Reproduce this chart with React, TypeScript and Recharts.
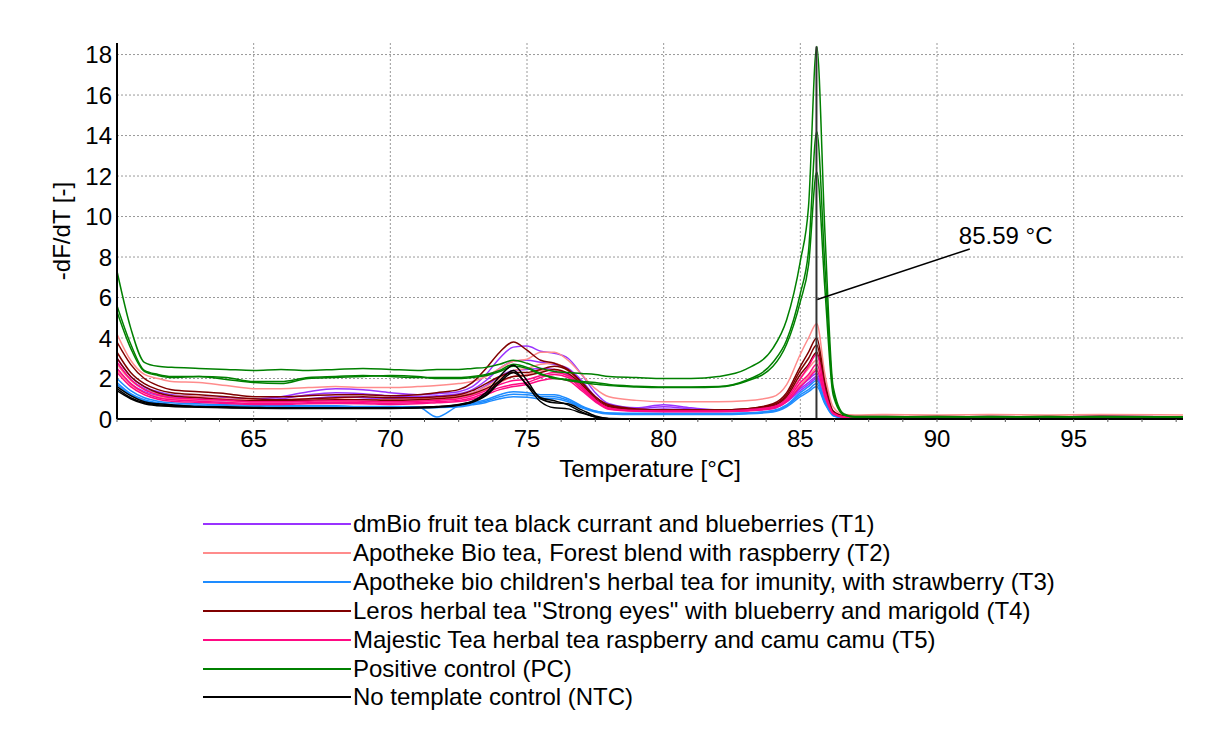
import React from "react";
import {
  LineChart,
  Line,
  XAxis,
  YAxis,
  CartesianGrid,
  ReferenceLine,
  ReferenceDot,
} from "recharts";

// temperature grid (°C), denser around the melt peaks
const temps = [
  60, 60.5, 61, 61.5, 62,
  63, 64, 65, 66, 67, 68, 69, 70, 71, 71.7,
  72.5, 73, 73.5, 74, 74.5, 75, 75.5, 76, 76.5, 77, 77.5, 78,
  79, 80, 81, 82, 83, 84, 84.5,
  85, 85.3, 85.6, 85.9, 86.2, 86.6, 87,
  88, 90, 92, 94, 96, 99,
];

// T1 dmBio (purple)
const t1a = [
  3.0, 2.1, 1.6, 1.35, 1.2,
  1.1, 1.05, 1.0, 1.1, 1.35, 1.5, 1.45, 1.3, 1.2, 1.25,
  1.35, 1.6, 2.2, 3.0, 3.55, 3.6, 3.35, 3.25, 3.0, 2.2, 1.3, 0.75,
  0.55, 0.7, 0.55, 0.45, 0.48, 0.6, 0.95,
  1.6, 1.95, 2.25, 1.0, 0.3, 0.12, 0.1,
  0.1, 0.12, 0.1, 0.1, 0.15, 0.1,
];
const t1b = [
  2.8, 1.95, 1.5, 1.25, 1.1,
  1.05, 0.98, 0.95, 1.0, 1.2, 1.3, 1.25, 1.15, 1.1, 1.15,
  1.25, 1.45, 1.9, 2.5, 2.85, 2.9, 2.8, 2.7, 2.5, 1.9, 1.1, 0.65,
  0.5, 0.6, 0.5, 0.42, 0.45, 0.55, 0.9,
  1.5, 1.8, 2.1, 0.95, 0.28, 0.1, 0.1,
  0.1, 0.1, 0.12, 0.1, 0.1, 0.1,
];
const t1c = [
  2.5, 1.75, 1.35, 1.15, 1.0,
  0.95, 0.9, 0.88, 0.9, 1.0, 1.1, 1.05, 1.0, 1.0, 1.05,
  1.15, 1.3, 1.65, 2.1, 2.4, 2.45, 2.5, 2.45, 2.2, 1.6, 0.95, 0.55,
  0.45, 0.5, 0.45, 0.4, 0.42, 0.52, 0.85,
  1.4, 1.7, 2.0, 0.9, 0.25, 0.1, 0.08,
  0.08, 0.1, 0.08, 0.1, 0.08, 0.08,
];

// T2 Apotheke forest blend (salmon)
const t2a = [
  4.2, 2.9, 2.2, 2.0, 1.85,
  1.8, 1.65, 1.5, 1.5, 1.55, 1.6, 1.55, 1.55, 1.6, 1.65,
  1.75, 1.85, 2.1, 2.5, 2.85, 2.95, 3.3, 3.3, 2.9, 2.2, 1.5, 1.1,
  0.92, 0.85, 0.85, 0.85, 0.9, 1.1, 1.7,
  3.2, 4.0, 4.7, 2.2, 0.6, 0.22, 0.2,
  0.22, 0.2, 0.22, 0.2, 0.22, 0.2,
];
const t2b = [
  2.7, 1.9, 1.45, 1.25, 1.15,
  1.1, 1.0, 0.95, 0.95, 1.0, 1.0, 0.95, 0.95, 1.0, 1.05,
  1.15, 1.3, 1.6, 2.0, 2.4, 2.5, 2.7, 2.75, 2.4, 1.7, 1.0, 0.6,
  0.48, 0.45, 0.45, 0.45, 0.5, 0.7, 1.1,
  2.0, 2.5, 2.9, 1.3, 0.35, 0.15, 0.12,
  0.12, 0.12, 0.1, 0.12, 0.12, 0.1,
];
const t2c = [
  2.4, 1.7, 1.3, 1.1, 1.0,
  0.95, 0.9, 0.85, 0.85, 0.9, 0.88, 0.85, 0.85, 0.9, 0.95,
  1.05, 1.2, 1.45, 1.8, 2.1, 2.2, 2.4, 2.45, 2.1, 1.5, 0.9, 0.55,
  0.42, 0.4, 0.4, 0.4, 0.45, 0.6, 0.95,
  1.7, 2.1, 2.5, 1.1, 0.3, 0.12, 0.1,
  0.1, 0.1, 0.12, 0.1, 0.1, 0.1,
];

// T3 Apotheke children's tea (blue)
const t3a = [
  2.0, 1.4, 1.05, 0.88, 0.8,
  0.75, 0.7, 0.68, 0.65, 0.65, 0.65, 0.62, 0.62, 0.6, 0.1,
  0.65, 0.8, 0.95, 1.2, 1.35, 1.3, 1.2, 1.2, 1.0, 0.65, 0.4, 0.3,
  0.28, 0.28, 0.28, 0.28, 0.3, 0.42, 0.7,
  1.3, 1.6, 1.9, 0.9, 0.2, 0.06, 0.05,
  0.05, 0.06, 0.05, 0.05, 0.06, 0.05,
];
const t3b = [
  1.8, 1.25, 0.95, 0.8, 0.72,
  0.68, 0.65, 0.62, 0.6, 0.6, 0.6, 0.58, 0.58, 0.58, 0.6,
  0.62, 0.75, 0.88, 1.1, 1.22, 1.2, 1.1, 1.1, 0.92, 0.6, 0.38, 0.28,
  0.25, 0.25, 0.25, 0.25, 0.28, 0.38, 0.65,
  1.2, 1.45, 1.75, 0.8, 0.18, 0.05, 0.04,
  0.04, 0.05, 0.04, 0.04, 0.05, 0.04,
];
const t3c = [
  1.7, 1.2, 0.9, 0.75, 0.68,
  0.62, 0.6, 0.58, 0.56, 0.56, 0.56, 0.55, 0.55, 0.55, 0.56,
  0.6, 0.7, 0.82, 1.0, 1.1, 1.08, 1.0, 1.0, 0.85, 0.55, 0.35, 0.25,
  0.22, 0.22, 0.22, 0.22, 0.25, 0.35, 0.6,
  1.1, 1.35, 1.6, 0.75, 0.16, 0.04, 0.03,
  0.03, 0.04, 0.03, 0.03, 0.04, 0.03,
];

// T4 Leros (dark red)
const t4a = [
  3.8, 2.7, 2.0, 1.65, 1.45,
  1.35, 1.25, 1.1, 1.1, 1.15, 1.2, 1.2, 1.15, 1.2, 1.3,
  1.45, 1.8, 2.5, 3.3, 3.8, 3.4, 2.9, 2.75, 2.45, 1.8, 1.1, 0.7,
  0.5, 0.45, 0.45, 0.45, 0.5, 0.75, 1.3,
  2.6, 3.3, 4.0, 1.8, 0.4, 0.15, 0.12,
  0.12, 0.1, 0.12, 0.1, 0.12, 0.1,
];
const t4b = [
  3.3, 2.3, 1.75, 1.45, 1.3,
  1.2, 1.1, 1.0, 0.95, 1.0, 1.05, 1.1, 1.05, 1.05, 1.1,
  1.2, 1.4, 1.75, 2.1, 2.3, 2.3, 2.45, 2.6, 2.4, 1.8, 1.1, 0.65,
  0.48, 0.45, 0.45, 0.45, 0.5, 0.7, 1.2,
  2.4, 3.0, 3.65, 1.6, 0.35, 0.12, 0.1,
  0.1, 0.12, 0.1, 0.1, 0.12, 0.1,
];
const t4c = [
  3.0, 2.1, 1.6, 1.3, 1.15,
  1.05, 0.95, 0.9, 0.9, 0.92, 0.95, 0.95, 0.92, 0.95, 1.0,
  1.1, 1.25, 1.5, 1.85, 2.1, 2.15, 2.3, 2.45, 2.25, 1.7, 1.0, 0.6,
  0.45, 0.42, 0.42, 0.42, 0.48, 0.65, 1.1,
  2.2, 2.7, 3.3, 1.5, 0.32, 0.12, 0.1,
  0.1, 0.1, 0.1, 0.12, 0.1, 0.1,
];

// T5 Majestic Tea (pink)
const t5a = [
  2.8, 1.95, 1.45, 1.2, 1.05,
  0.98, 0.92, 0.85, 0.85, 0.88, 0.9, 0.88, 0.85, 0.88, 0.92,
  1.0, 1.15, 1.4, 1.7, 1.9, 1.95, 2.15, 2.3, 2.15, 1.6, 0.95, 0.55,
  0.42, 0.4, 0.4, 0.4, 0.45, 0.6, 1.0,
  2.0, 2.6, 3.2, 1.4, 0.3, 0.1, 0.08,
  0.08, 0.1, 0.08, 0.08, 0.1, 0.08,
];
const t5b = [
  2.5, 1.75, 1.3, 1.05, 0.95,
  0.88, 0.82, 0.78, 0.78, 0.8, 0.82, 0.8, 0.78, 0.8, 0.85,
  0.92, 1.05, 1.3, 1.55, 1.7, 1.8, 2.05, 2.2, 2.05, 1.5, 0.9, 0.5,
  0.4, 0.38, 0.38, 0.38, 0.42, 0.55, 0.9,
  1.8, 2.2, 2.7, 1.2, 0.28, 0.1, 0.08,
  0.08, 0.08, 0.1, 0.08, 0.08, 0.08,
];
const t5c = [
  2.3, 1.6, 1.2, 0.98, 0.88,
  0.82, 0.76, 0.72, 0.72, 0.75, 0.76, 0.75, 0.72, 0.75, 0.8,
  0.86, 0.98, 1.2, 1.45, 1.6, 1.7, 1.9, 2.0, 1.9, 1.4, 0.85, 0.48,
  0.38, 0.36, 0.36, 0.36, 0.4, 0.52, 0.85,
  1.6, 2.0, 2.4, 1.1, 0.25, 0.08, 0.06,
  0.06, 0.08, 0.06, 0.06, 0.08, 0.06,
];

// positive control (green)
const pcA = [
  7.3, 4.5, 2.8, 2.6, 2.55,
  2.5, 2.45, 2.4, 2.45, 2.4, 2.45, 2.5, 2.45, 2.4, 2.45,
  2.45, 2.5, 2.55, 2.7, 2.9, 2.75, 2.5, 2.35, 2.3, 2.25, 2.2, 2.1,
  2.05, 2.0, 2.0, 2.1, 2.45, 3.5, 4.9,
  7.8, 10.5, 18.4, 9.2, 1.6, 0.25, 0.12,
  0.12, 0.1, 0.12, 0.1, 0.12, 0.1,
];
const pcB = [
  5.6, 3.7, 2.4, 2.2, 2.1,
  2.1, 2.05, 1.85, 1.85, 2.05, 2.1, 2.15, 2.1, 2.05, 2.05,
  2.05, 2.1, 2.2, 2.4, 2.7, 2.55, 2.25, 2.0, 1.95, 1.85, 1.8, 1.7,
  1.62, 1.58, 1.58, 1.6, 1.9, 2.8, 3.9,
  6.2, 8.3, 14.2, 7.5, 1.4, 0.2, 0.1,
  0.1, 0.12, 0.1, 0.1, 0.1, 0.1,
];
const pcC = [
  5.3, 3.5, 2.35, 2.15, 2.05,
  2.1, 1.95, 1.8, 1.75, 2.0, 2.05, 2.1, 2.15, 2.1, 2.0,
  2.0, 2.05, 2.15, 2.35, 2.6, 2.5, 2.2, 2.05, 1.9, 1.8, 1.72, 1.65,
  1.58, 1.55, 1.55, 1.58, 1.85, 2.6, 3.7,
  5.8, 7.6, 12.2, 6.4, 1.2, 0.2, 0.1,
  0.1, 0.1, 0.1, 0.12, 0.1, 0.1,
];

// no template control (black)
const ntcA = [
  1.6, 1.15, 0.85, 0.75, 0.7,
  0.62, 0.6, 0.57, 0.55, 0.55, 0.56, 0.55, 0.55, 0.58, 0.62,
  0.72, 0.88, 1.3, 2.1, 2.65, 1.9, 1.0, 0.8, 0.75, 0.45, 0.15, 0.02,
  0, 0, 0, 0, 0, 0, 0,
  0, 0, 0, 0, 0, 0, 0,
  0, 0, 0, 0, 0, 0,
];
const ntcB = [
  1.5, 1.05, 0.8, 0.7, 0.65,
  0.6, 0.57, 0.55, 0.53, 0.53, 0.54, 0.53, 0.53, 0.56, 0.6,
  0.7, 0.85, 1.2, 1.9, 2.4, 1.65, 0.85, 0.55, 0.5, 0.3, 0.1, 0.01,
  0, 0, 0, 0, 0, 0, 0,
  0, 0, 0, 0, 0, 0, 0,
  0, 0, 0, 0, 0, 0,
];
const ntcC = [
  1.4, 1.0, 0.75, 0.66, 0.62,
  0.58, 0.55, 0.53, 0.52, 0.52, 0.52, 0.52, 0.52, 0.54, 0.58,
  0.68, 0.82, 1.15, 1.8, 2.3, 1.7, 1.05, 0.9, 0.7, 0.35, 0.1, 0.01,
  0, 0, 0, 0, 0, 0, 0,
  0, 0, 0, 0, 0, 0, 0,
  0, 0, 0, 0, 0, 0,
];

const legendNames = [
  "dmBio fruit tea black currant and blueberries (T1)",
  "Apotheke Bio tea, Forest blend with raspberry (T2)",
  "Apotheke bio children's herbal tea for imunity, with strawberry (T3)",
  'Leros herbal tea "Strong eyes" with blueberry and marigold (T4)',
  "Majestic Tea herbal tea raspberry and camu camu (T5)",
  "Positive control (PC)",
  "No template control (NTC)",
];
const groupColors = ["#9933ff", "#ff8c8c", "#1e8cff", "#800000", "#ff0a84", "#008000", "#000000"];
const groupSeries = [
  [t1a, t1b, t1c],
  [t2a, t2b, t2c],
  [t3a, t3b, t3c],
  [t4a, t4b, t4c],
  [t5a, t5b, t5c],
  [pcA, pcB, pcC],
  [ntcA, ntcB, ntcC],
];

const majorTicks = [65, 70, 75, 80, 85, 90, 95];
const xTicks = [
  60, 61.25, 62.5, 63.75, 65, 66.25, 67.5, 68.75, 70, 71.25, 72.5, 73.75,
  75, 76.25, 77.5, 78.75, 80, 81.25, 82.5, 83.75, 85, 86.25, 87.5, 88.75,
  90, 91.25, 92.5, 93.75, 95, 96.25, 97.5, 98.75,
];
const yTicks = [0, 2, 4, 6, 8, 10, 12, 14, 16, 18];
const meltTemp = 85.59;

const lines = groupSeries.flatMap((list, g) =>
  list.map((values, k) => ({ key: `g${g}s${k}`, color: groupColors[g], values }))
);

const data = temps.map((t, i) => {
  const row: Record<string, number> = { t };
  lines.forEach((l) => (row[l.key] = l.values[i]));
  return row;
});

const FONT = "'Liberation Sans', Arial, sans-serif";

export default function App() {
  return (
    <div style={{ position: "absolute", left: 0, top: 0, width: 1216, height: 733, background: "#fff", fontFamily: FONT }}>
      <LineChart
        width={1216}
        height={500}
        data={data}
        margin={{ top: 43, right: 33, left: 0, bottom: 19 }}
        style={{ fontFamily: FONT }}
      >
        <CartesianGrid
          stroke="#999"
          strokeDasharray="2 2"
          verticalValues={majorTicks}
          horizontalValues={yTicks.slice(1)}
        />
        <XAxis
          dataKey="t"
          type="number"
          domain={[60, 99]}
          ticks={xTicks}
          interval={0}
          allowDataOverflow
          height={62}
          tickSize={3}
          tickMargin={8}
          tickFormatter={(v) => (majorTicks.includes(v) ? String(v) : "")}
          tick={{ fill: "#000", fontSize: 24 }}
          axisLine={{ stroke: "#000", strokeWidth: 2 }}
          tickLine={{ stroke: "#555" }}
          label={{ value: "Temperature [°C]", position: "insideBottom", offset: 4, fill: "#000", fontSize: 24 }}
        />
        <YAxis
          type="number"
          domain={[0, 18.57]}
          ticks={yTicks}
          interval={0}
          allowDataOverflow
          width={117}
          tickLine={false}
          tickSize={0}
          tickMargin={5}
          tick={{ fill: "#000", fontSize: 24 }}
          axisLine={{ stroke: "#000", strokeWidth: 2 }}
          label={{
            value: "-dF/dT [-]",
            angle: -90,
            position: "insideLeft",
            offset: 61,
            fill: "#000",
            fontSize: 24,
            style: { textAnchor: "middle" },
          }}
        />
        {lines.map((l) => (
          <Line
            key={l.key}
            dataKey={l.key}
            type="monotone"
            stroke={l.color}
            strokeWidth={1.5}
            dot={false}
            activeDot={false}
            isAnimationActive={false}
          />
        ))}
        <ReferenceLine
          segment={[{ x: meltTemp, y: 0 }, { x: meltTemp, y: 18.4 }]}
          stroke="#333"
          strokeWidth={2}
        />
        <ReferenceLine
          segment={[{ x: meltTemp + 0.03, y: 5.9 }, { x: 91.2, y: 8.4 }]}
          stroke="#000"
          strokeWidth={1.5}
        />
        <ReferenceDot
          x={90.8}
          y={9.05}
          r={0}
          fill="none"
          stroke="none"
          label={{ value: `${meltTemp} °C`, position: "right", offset: 0, fill: "#000", fontSize: 24 }}
        />
      </LineChart>
      <div style={{ position: "absolute", left: 0, top: 510 }}>
        {legendNames.map((name, i) => (
          <div key={name} style={{ display: "flex", alignItems: "center", height: 28.85 }}>
            <div style={{ marginLeft: 203, width: 148, height: 2, background: groupColors[i] }} />
            <span style={{ marginLeft: 2, fontSize: 24, lineHeight: "28px", color: "#000", whiteSpace: "nowrap" }}>
              {name}
            </span>
          </div>
        ))}
      </div>
    </div>
  );
}
